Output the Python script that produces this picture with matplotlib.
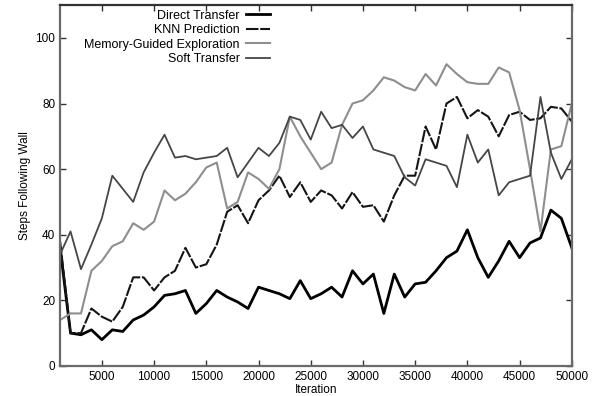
import matplotlib
matplotlib.use("Agg")
import matplotlib.pyplot as plt
import numpy as np

plt.rcParams['font.family'] = ['Liberation Sans', 'DejaVu Sans']

# iterations sampled every 1000 steps
iterations = np.arange(1000, 50001, 1000)

direct_transfer = [36, 10, 9.5, 11, 8, 11, 10.5, 14, 15.5, 18,
                   21.5, 22, 23, 16, 19, 23, 21, 19.5, 17.5, 24,
                   23, 22, 20.5, 26, 20.5, 22, 24, 21, 29, 25,
                   28, 16, 28, 21, 25, 25.5, 29, 33, 35, 41.5,
                   33, 27, 32, 38, 33, 37.5, 39, 47.5, 45, 36]

knn_prediction = [38, 10, 10, 17.5, 15, 13.5, 18, 27, 27, 23,
                  27, 29, 36, 30, 31, 37, 47, 49, 43.5, 50.5,
                  53.5, 58, 51.5, 56, 50, 53.5, 52, 48, 53, 48.5,
                  49, 44, 52, 58, 58, 73, 66, 80, 82, 75.5,
                  78, 76, 70, 76.5, 77.5, 75, 75.5, 79, 78.5, 74.5]

memory_guided = [14, 16, 16, 29, 32, 36.5, 38, 43.5, 41.5, 44,
                 53.5, 50.5, 52.5, 56, 60.5, 62, 48, 50, 59, 57,
                 54, 60, 76, 70, 65, 60, 62, 73.5, 80, 81,
                 84, 88, 87, 85, 84, 89, 85.5, 92, 89, 86.5,
                 86, 86, 91, 89.5, 78, 60, 41, 66, 67, 80]

soft_transfer = [34, 41, 29.5, 37, 45, 58, 54, 50, 59, 65,
                 70.5, 63.5, 64, 63, 63.5, 64, 66.5, 57.5, 62, 66.5,
                 64, 68, 76, 75, 69, 77.5, 72.5, 73.5, 69.5, 73,
                 66, 65, 64, 57.5, 55, 63, 62, 61, 54.5, 70.5,
                 62, 66, 52, 56, 57, 58, 82, 65, 57, 63]

labels = ['Direct Transfer', 'KNN Prediction',
          'Memory-Guided Exploration', 'Soft Transfer']
xticks = np.arange(5000, 50001, 5000)
yticks = np.arange(0, 101, 20)

fig = plt.figure(figsize=(5.95, 3.96), dpi=100)
ax = fig.add_axes([0.101, 0.076, 0.860, 0.911])

ax.plot(iterations, direct_transfer, color='black', lw=2.0, label=labels[0])
ax.plot(iterations, knn_prediction, color='#151515', lw=1.5,
        linestyle=(0, (6, 0.8)), label=labels[1])
ax.plot(iterations, memory_guided, color='#8e8e8e', lw=1.5, label=labels[2])
ax.plot(iterations, soft_transfer, color='#464646', lw=1.3, label=labels[3])

ax.set_xlim(1000, 50000)
ax.set_ylim(0, 110)
ax.set_xticks(xticks)
ax.set_yticks(yticks)
ax.tick_params(direction='in', top=True, right=True, length=4,
               width=1, labelsize=8.5, color='#333333')
for s in ax.spines.values():
    s.set_color('#6a6a6a')
    s.set_linewidth(1.6)
ax.spines['top'].set_color('#333333')

ax.set_xlabel('Iteration', fontsize=8.5, labelpad=1)
ax.set_ylabel('Steps Following Wall', fontsize=8.5, labelpad=3)

leg = ax.legend(loc='upper left', bbox_to_anchor=(0.03, 1.012),
                markerfirst=False, frameon=False, fontsize=9,
                handlelength=1.9, handletextpad=0.5, labelspacing=0.2,
                borderaxespad=0.3)

fig.savefig('out.png', dpi=100)
